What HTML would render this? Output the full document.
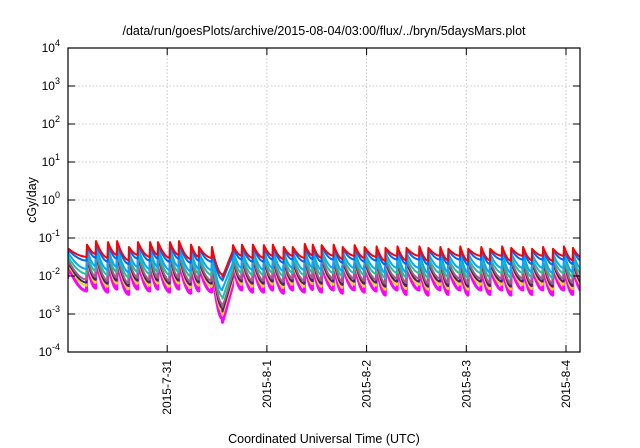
<!DOCTYPE html>
<html><head><meta charset="utf-8"><style>
body{margin:0;background:#fff;}
svg{display:block;font-family:"Liberation Sans",sans-serif;}
</style></head><body>
<svg id="chart" width="640" height="448" viewBox="0 0 640 448">
<text x="324" y="35" font-size="12.5" text-anchor="middle">/data/run/goesPlots/archive/2015-08-04/03:00/flux/../bryn/5daysMars.plot</text>
<text x="0" y="0" font-size="12.5" text-anchor="middle" transform="translate(36,200) rotate(-90)">cGy/day</text>
<text x="324" y="443" font-size="12.5" text-anchor="middle">Coordinated Universal Time (UTC)</text>
<g id="grid"></g>
<g id="series"></g>
<g id="axes"></g>
</svg>
<script>
// x in days since 2015-07-30 00:00 UTC
const dayLabels = ["2015-7-31","2015-8-1","2015-8-2","2015-8-3","2015-8-4"];
const dayTicks = [1,2,3,4,5];
const yTickExps = [-4,-3,-2,-1,0,1,2,3,4];
const peakTimes = [0.015,0.196,0.286,0.406,0.497,0.617,0.707,0.828,0.908,1.028,1.118,1.239,1.319,1.449,1.555,1.66,1.75,1.86,1.97,2.06,2.17,2.26,2.38,2.46,2.55,2.67,2.76,2.88,2.98,3.10,3.19,3.31,3.40,3.53,3.62,3.74,3.82,3.94,4.02,4.15,4.24,4.36,4.45,4.57,4.66,4.77,4.87,4.98,5.07];
const peakVals = [0.051,0.067,0.083,0.078,0.083,0.058,0.078,0.078,0.078,0.078,0.083,0.067,0.058,0.058,0.0095,0.065,0.067,0.067,0.065,0.067,0.058,0.058,0.07,0.067,0.065,0.067,0.058,0.065,0.058,0.06,0.055,0.06,0.055,0.06,0.055,0.058,0.052,0.06,0.052,0.058,0.052,0.06,0.055,0.058,0.052,0.058,0.052,0.06,0.055];
const troughVals = [0.032,0.038,0.03,0.036,0.026,0.036,0.032,0.036,0.03,0.036,0.028,0.032,0.03,0.011,0.045,0.034,0.03,0.03,0.034,0.028,0.034,0.03,0.035,0.03,0.034,0.028,0.034,0.03,0.032,0.025,0.034,0.026,0.034,0.025,0.034,0.026,0.034,0.025,0.034,0.026,0.034,0.025,0.034,0.026,0.034,0.025,0.034,0.026,0.03];
const seriesNames = ["red","blue","sky","teal","mauve","navy","yellow","magenta"];
const seriesColors = ["#ff0000","#0066ff","#00aaff","#20c0a0","#a06080","#402080","#f0e000","#ff00ff"];
const peakOffsets = [0,-0.04,-0.13,-0.24,-0.33,-0.38,-0.42,-0.5];
const troughOffsets = [0,-0.1,-0.32,-0.45,-0.6,-0.68,-0.76,-0.9];
const startVal = 0.045;

const L=68,R=580,T=48,B=352, X0=67.5, DAY=99.7;
const xs = d => X0 + d*DAY;
const ys = v => B - (Math.log10(v)+4)/8*(B-T);
const NS="http://www.w3.org/2000/svg";
function mk(tag, parent){const e=document.createElementNS(NS,tag);parent.appendChild(e);return e;}
const svg=document.getElementById('chart'), grid=document.getElementById('grid'), axes=document.getElementById('axes'), sg=document.getElementById('series');

yTickExps.forEach(e=>{
  const y=ys(Math.pow(10,e));
  if(e>-4&&e<4){const g=mk('line',grid);
  
  
  g.setAttribute('x1',L);g.setAttribute('x2',R);g.setAttribute('y1',y);g.setAttribute('y2',y);
  g.setAttribute('stroke','#bbb');g.setAttribute('stroke-width','0.8');g.setAttribute('stroke-dasharray','1.5,2');}
  [[L,L+7],[R-7,R]].forEach(p=>{const t=mk('line',axes);
  
  
  t.setAttribute('x1',p[0]);t.setAttribute('x2',p[1]);t.setAttribute('y1',y);t.setAttribute('y2',y);t.setAttribute('stroke','#000');});
  const tx=mk('text',axes);
  
  
  tx.setAttribute('x',L-8);tx.setAttribute('y',y+4);tx.setAttribute('text-anchor','end');tx.setAttribute('font-size','12');
  tx.textContent='10';
  const sp=mk('tspan',tx);sp.setAttribute('dy','-6');sp.setAttribute('font-size','9');sp.textContent=String(e);
});
dayTicks.forEach((d,i)=>{
  const x=xs(d);
  const g=mk('line',grid);
  
  
  g.setAttribute('x1',x);g.setAttribute('x2',x);g.setAttribute('y1',T);g.setAttribute('y2',B);
  g.setAttribute('stroke','#bbb');g.setAttribute('stroke-width','0.8');g.setAttribute('stroke-dasharray','1.5,2');
  [[B,B-7],[T,T+7]].forEach(p=>{const t=mk('line',axes);
  
  
  t.setAttribute('x1',x);t.setAttribute('x2',x);t.setAttribute('y1',p[0]);t.setAttribute('y2',p[1]);t.setAttribute('stroke','#000');});
  const tx=mk('text',axes);
  
  
  tx.setAttribute('font-size','12');tx.setAttribute('text-anchor','end');
  tx.setAttribute('transform','translate('+(x+4)+','+(B+8)+') rotate(-90)');
  tx.textContent=dayLabels[i];
});
const frame=mk('rect',axes);


frame.setAttribute('x',L);frame.setAttribute('y',T);frame.setAttribute('width',R-L);frame.setAttribute('height',B-T);
frame.setAttribute('fill','none');frame.setAttribute('stroke','#000');frame.setAttribute('stroke-width','1.2');

const clip=mk('clipPath',svg);clip.setAttribute('id','pc');
const cr=mk('rect',clip);cr.setAttribute('x',L);cr.setAttribute('y',T);cr.setAttribute('width',R-L);cr.setAttribute('height',B-T);
sg.setAttribute('clip-path','url(#pc)');

function seriesPath(s){
  const po=peakOffsets[s], to=troughOffsets[s];
  let pts=[];
  pts.push([0, Math.log10(startVal)+to*0.8]);
  for(let i=0;i<peakTimes.length;i++){
    const t0=peakTimes[i], t1=(i+1<peakTimes.length)?peakTimes[i+1]:peakTimes[i]+0.1;
    const pdip = peakVals[i]<0.015?2.4:1;
    const lp=Math.log10(peakVals[i])+po*pdip;
    const tdip = troughVals[i]<0.015?1.3:1;
    const lq=Math.log10(troughVals[i])+to*tdip;
    const rising = lq>lp;
    const N=10;
    for(let k=0;k<=N;k++){
      const f=k/N, g=rising?f:1-Math.pow(1-f,1.8);
      pts.push([t0+(t1-t0)*f*0.97, lp+(lq-lp)*g]);
    }
  }
  return pts.map((p,i)=>(i?'L':'M')+xs(p[0]).toFixed(1)+','+ys(Math.pow(10,p[1])).toFixed(1)).join('');
}
for(let s=seriesNames.length-1;s>=0;s--){
  const p=mk('path',sg);
  
  
  p.setAttribute('d',seriesPath(s));
  p.setAttribute('fill','none');p.setAttribute('stroke',seriesColors[s]);
  p.setAttribute('stroke-width', s===7?3:2);
  p.setAttribute('stroke-linejoin','round');
}
</script>
</body></html>
